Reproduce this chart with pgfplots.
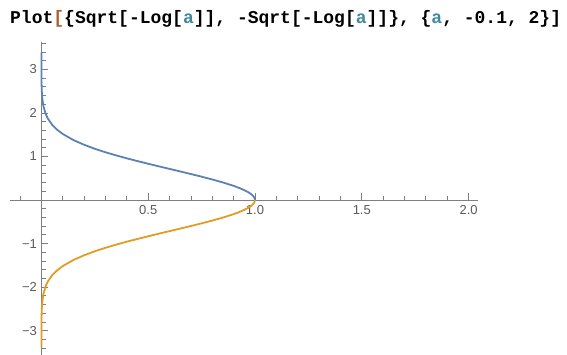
\documentclass[border=0pt]{standalone}
\usepackage{fontspec}
\setmainfont{Liberation Sans}
\newfontfamily\monob{Liberation Mono}
\usepackage{pgfplots}
\usepackage{pgfplotstable}
\pgfplotsset{compat=1.18}
\definecolor{mblue}{rgb}{0.368417,0.506779,0.709798}
\definecolor{morange}{rgb}{0.880722,0.611041,0.142051}
\definecolor{mteal}{HTML}{3F8A9E}
\definecolor{mbrack}{HTML}{A5602E}
\definecolor{axgray}{HTML}{7F7F7F}
\definecolor{lblgray}{HTML}{5A5A5A}
\pgfplotstableread{
a y
0.00001 3.393
0.0001 3.035
0.0005 2.757
0.001 2.628
0.002 2.493
0.005 2.302
0.01 2.146
0.02 1.978
0.03 1.873
0.05 1.731
0.075 1.609
0.1 1.517
0.15 1.377
0.2 1.269
0.25 1.177
0.3 1.097
0.35 1.025
0.4 0.957
0.45 0.894
0.5 0.833
0.55 0.773
0.6 0.715
0.65 0.656
0.7 0.597
0.75 0.536
0.8 0.472
0.85 0.403
0.9 0.325
0.925 0.279
0.95 0.226
0.97 0.1745
0.98 0.1422
0.99 0.1003
0.995 0.0708
0.999 0.0316
1.0 0
}\uppertab
\pgfplotstableread{
a y
0.00001 -3.393
0.0001 -3.035
0.0005 -2.757
0.001 -2.628
0.002 -2.493
0.005 -2.302
0.01 -2.146
0.02 -1.978
0.03 -1.873
0.05 -1.731
0.075 -1.609
0.1 -1.517
0.15 -1.377
0.2 -1.269
0.25 -1.177
0.3 -1.097
0.35 -1.025
0.4 -0.957
0.45 -0.894
0.5 -0.833
0.55 -0.773
0.6 -0.715
0.65 -0.656
0.7 -0.597
0.75 -0.536
0.8 -0.472
0.85 -0.403
0.9 -0.325
0.925 -0.279
0.95 -0.226
0.97 -0.1745
0.98 -0.1422
0.99 -0.1003
0.995 -0.0708
0.999 -0.0316
1.0 0
}\lowertab
\begin{document}
\begin{tikzpicture}
\path[use as bounding box] (0,0) rectangle (567bp,355bp);
\node[anchor=base west,inner sep=0pt,font=\monob\bfseries\fontsize{18bp}{20bp}\selectfont] at (10bp,331bp)
 {Plot\textcolor{mbrack}{[}\{Sqrt[-Log[\textcolor{mteal}{a}]], -Sqrt[-Log[\textcolor{mteal}{a}]]\}, \{\textcolor{mteal}{a}, -0.1, 2\}]};
\begin{axis}[
  at={(10bp,0bp)}, anchor=south west,
  scale only axis, width=468bp, height=313bp,
  xmin=-0.147, xmax=2.044, ymin=-3.56, ymax=3.63,
  axis lines=middle,
  axis line style={-, axgray, line width=0.8bp},
  tick align=inside,
  major tick length=7bp, minor tick length=4.5bp,
  every tick/.style={axgray, line width=0.8bp},
  xtick={0.5,1,1.5,2}, xticklabels={0.5,1.0,1.5,2.0},
  ytick={-3,-2,-1,1,2,3}, yticklabels={−3,−2,−1,1,2,3},
  minor xtick={-0.1,0.1,0.2,0.3,0.4,0.6,0.7,0.8,0.9,1.1,1.2,1.3,1.4,1.6,1.7,1.8,1.9},
  minor ytick={-3.4,-3.2,-2.8,-2.6,-2.4,-2.2,-1.8,-1.6,-1.4,-1.2,-0.8,-0.6,-0.4,-0.2,0.2,0.4,0.6,0.8,1.2,1.4,1.6,1.8,2.2,2.4,2.6,2.8,3.2,3.4,3.6},
  /pgf/number format/assume math mode=true,
  tick label style={font=\fontsize{13bp}{15bp}\selectfont, text=lblgray},
  xticklabel style={yshift=-2bp},
  yticklabel style={xshift=-1bp},
  clip=true,
]
\addplot[mblue, line width=1.8bp, line join=round] table[x=a,y=y] {\uppertab};
\addplot[morange, line width=1.8bp, line join=round] table[x=a,y=y] {\lowertab};
\end{axis}
\end{tikzpicture}
\end{document}
